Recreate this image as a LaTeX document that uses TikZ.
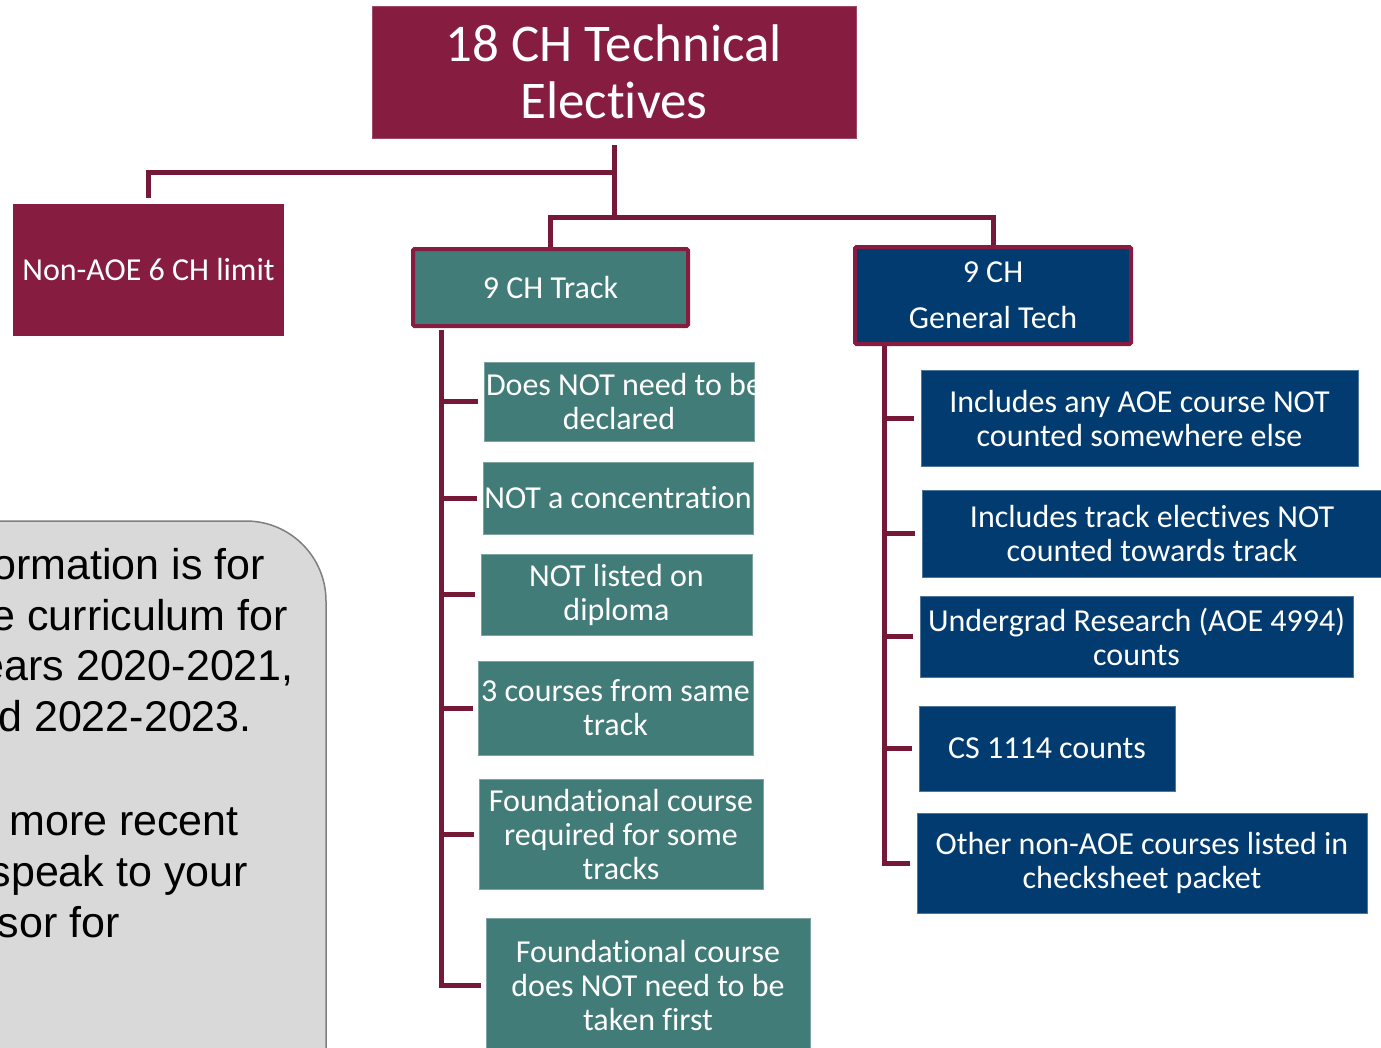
\documentclass[tikz,border=0pt]{standalone}
\usepackage{fontspec}
\setmainfont{Carlito}[Ligatures={NoCommon,NoContextual}]
\newfontfamily\arialf{Liberation Sans}
\definecolor{maroon}{RGB}{134,28,64}
\definecolor{connc}{RGB}{118,24,56}
\definecolor{tealc}{RGB}{66,124,120}
\definecolor{navyc}{RGB}{2,59,111}
\definecolor{greyfill}{RGB}{217,217,217}
\definecolor{greyline}{RGB}{127,127,127}
\begin{document}
\begin{tikzpicture}[x=1pt,y=-1pt,
  base/.style={rectangle, inner sep=0pt, text=white, align=center, font=\fontsize{32}{34}\selectfont},
  topbox/.style={base, fill=maroon, draw=maroon!80!white, line width=0.8pt, font=\fontsize{53}{57}\selectfont},
  limbox/.style={base, fill=maroon},
  headteal/.style={base, fill=tealc, draw=maroon, line width=4pt, rounded corners=1.5pt},
  headnavy/.style={base, fill=navyc, draw=maroon, line width=4pt, rounded corners=1.5pt, font=\fontsize{32}{46}\selectfont},
  tealbox/.style={base, fill=tealc, draw=tealc!70!white, line width=0.6pt},
  navybox/.style={base, fill=navyc, draw=navyc!70!white, line width=0.6pt},
  conn/.style={draw=connc, line width=5pt},
  greytxt/.style={anchor=base east, inner sep=0pt, font=\arialf\fontsize{43}{50}\selectfont, text=black}
]
\useasboundingbox (0,0) rectangle (1381,1047);
\begin{scope}
\clip (0,0) rectangle (1381,1047);

% grey note box
\draw[fill=greyfill, draw=greyline, line width=1.5pt, rounded corners=80pt] (-120,521) rectangle (326,1160);
\node[greytxt] (g1) at (265,579) {ormation is for};
\node[greytxt] (g2) at (288,630) {e curriculum for};
\node[greytxt] (g3) at (294,680) {ears 2020-2021,};
\node[greytxt] (g4) at (252,731) {d 2022-2023.};
\node[greytxt] (g5) at (239,835) {more recent};
\node[greytxt] (g6) at (248,886) {speak to your};
\node[greytxt] (g7) at (120,937) {sor for};

% top level
\node[topbox, minimum width=484pt, minimum height=132pt] (top) at (614,72) {18 CH Technical\\Electives};
\node[limbox, minimum width=271pt, minimum height=132pt] (lim) at (148.5,270) {Non-AOE 6 CH limit};
\node[headteal, minimum width=275pt, minimum height=77pt] (track) at (550.5,287.5) {9 CH Track};
\node[headnavy, minimum width=276pt, minimum height=97pt] (gen) at (993,295.5) {9 CH\\General Tech};

% track children
\node[tealbox, minimum width=270pt, minimum height=79pt] (t1) at (619,401.5) {\makebox[266pt][l]{Does NOT need to be}\\declared};
\node[tealbox, minimum width=270pt, minimum height=72pt] (t2) at (618,498) {NOT a concentration};
\node[tealbox, minimum width=271pt, minimum height=81pt] (t3) at (616.5,594.5) {NOT listed on\\diploma};
\node[tealbox, minimum width=275pt, minimum height=94pt] (t4) at (615.5,708) {3 courses from same\\track};
\node[tealbox, minimum width=284pt, minimum height=110pt] (t5) at (621,834) {Foundational course\\required for some\\tracks};
\node[tealbox, minimum width=324pt, minimum height=134pt] (t6) at (648,985) {Foundational course\\does NOT need to be\\taken first};

% general children
\node[navybox, minimum width=437pt, minimum height=96pt] (n1) at (1139.5,418) {Includes any AOE course NOT\\counted somewhere else};
\node[navybox, minimum width=460pt, minimum height=87pt] (n2) at (1152,533.5) {Includes track electives NOT\\counted towards track};
\node[navybox, minimum width=433pt, minimum height=81pt] (n3) at (1136.5,636.5) {Undergrad Research (AOE 4994)\\counts};
\node[navybox, minimum width=256pt, minimum height=85pt] (n4) at (1047,748.5) {CS 1114 counts};
\node[navybox, minimum width=450pt, minimum height=100pt] (n5) at (1142,863) {Other non-AOE courses listed in\\checksheet packet};

% connectors
\coordinate (j1) at (614,172);
\coordinate (j2) at (614,217);
\draw[conn] ([yshift=-7pt]top.south) -- (j2);
\draw[conn] (j1) -| ([yshift=6pt]lim.north);
\draw[conn] (track.north) |- (j2) -| (gen.north);

\coordinate (ts) at (441,330);
\foreach \c/\g in {t1/6,t2/6,t3/6,t4/5,t5/5,t6/5}
  \draw[conn] (ts) |- ([xshift=-\g pt]\c.west);
\coordinate (gs) at (884,346);
\foreach \c in {n1,n2,n3,n4,n5}
  \draw[conn] (gs) |- ([xshift=-7pt]\c.west);
\end{scope}
\end{tikzpicture}
\end{document}
